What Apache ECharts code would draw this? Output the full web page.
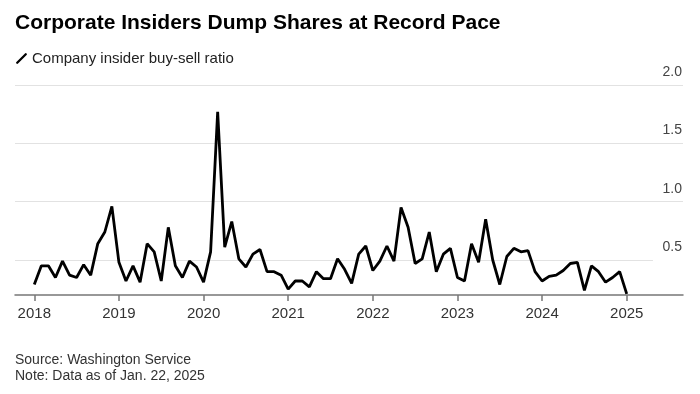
<!DOCTYPE html>
<html>
<head>
<meta charset="utf-8">
<script src="https://cdn.jsdelivr.net/npm/echarts@6/dist/echarts.min.js"></script>
<style>
html,body{margin:0;padding:0;background:#fff;}
#chart{width:700px;height:394px;}
</style>
</head>
<body>
<div id="chart"></div>
<script>
// Monthly insider buy-sell ratio, Jan of each year onward
const years = [2018, 2019, 2020, 2021, 2022, 2023, 2024, 2025];
const v2018 = [0.29,0.45,0.45,0.35,0.49,0.37,0.35,0.46,0.37,0.64,0.74,0.96];
const v2019 = [0.48,0.32,0.45,0.31,0.64,0.57,0.32,0.78,0.45,0.35,0.49,0.44];
const v2020 = [0.31,0.57,1.77,0.61,0.83,0.51,0.44,0.55,0.59,0.40,0.40,0.37];
const v2021 = [0.25,0.32,0.32,0.27,0.40,0.34,0.34,0.51,0.42,0.30,0.55,0.62];
const v2022 = [0.41,0.49,0.62,0.49,0.95,0.78,0.47,0.51,0.74,0.40,0.55,0.60];
const v2023 = [0.35,0.32,0.64,0.48,0.85,0.50,0.29,0.53,0.60,0.57,0.58,0.40];
const v2024 = [0.32,0.36,0.37,0.41,0.47,0.48,0.24,0.45,0.40,0.31,0.35,0.40];
const v2025 = [0.21];
const yTicks = [0.5, 1.0, 1.5, 2.0];
const seriesName = 'Company insider buy-sell ratio';

const byYear = [v2018, v2019, v2020, v2021, v2022, v2023, v2024, v2025];
const data = [];
byYear.forEach((arr, i) => {
  arr.forEach((v, m) => data.push([years[i] + m / 12, v]));
});

const X_MIN = 2017.772, X_MAX = 2025.665;
const Y_MIN = 0.2, Y_MAX = 2.0;

const gridData = yTicks.map(t => [
  { coord: [X_MIN, t] },
  { coord: [t === 0.5 ? 2025.31 : X_MAX, t] }
]);

const FONT = 'Liberation Sans, Arial, sans-serif';
const chart = echarts.init(document.getElementById('chart'), null, { renderer: 'canvas' });
chart.setOption({
  animation: false,
  backgroundColor: '#fff',
  textStyle: { fontFamily: FONT },
  title: [
    {
      text: 'Corporate Insiders Dump Shares at Record Pace',
      left: 10, top: 8,
      textStyle: { fontSize: 21, fontWeight: 'bold', color: '#000', fontFamily: FONT }
    },
    {
      text: 'Source: Washington Service\nNote: Data as of Jan. 22, 2025',
      left: 10, top: 347,
      textStyle: { fontSize: 14, fontWeight: 'normal', color: '#333', lineHeight: 16, fontFamily: FONT }
    }
  ],
  legend: {
    left: 11, top: 46,
    itemWidth: 11, itemHeight: 11, itemGap: 7,
    icon: 'path://M0,9.6 L8.4,1.2 Q9.2,0.4 10,1.2 Q10.8,2 10,2.8 L1.6,11.2 Q0.8,12 0,11.2 Q-0.8,10.4 0,9.6 Z',
    textStyle: { fontSize: 15, color: '#222' },
    data: [{ name: seriesName, itemStyle: { color: '#000' } }]
  },
  grid: { left: 15, right: 17, top: 85, bottom: 99, containLabel: false },
  xAxis: {
    type: 'value',
    min: X_MIN, max: X_MAX,
    splitLine: { show: false },
    axisLine: { show: true, lineStyle: { color: '#777', width: 1.5 } },
    axisTick: { show: true, customValues: years, length: 6, lineStyle: { color: '#777', width: 1.5 } },
    axisLabel: { customValues: years, fontSize: 15, color: '#333', margin: 11, formatter: v => String(Math.round(v)) }
  },
  yAxis: {
    type: 'value',
    position: 'right',
    min: Y_MIN, max: Y_MAX,
    splitLine: { show: false },
    axisLine: { show: false },
    axisTick: { show: false },
    axisLabel: {
      inside: true, customValues: yTicks, fontSize: 14, color: '#444',
      margin: 1, verticalAlign: 'bottom', padding: [0, 0, 6, 0],
      formatter: v => v.toFixed(1)
    }
  },
  series: [{
    name: seriesName,
    type: 'line',
    data: data,
    symbol: 'none',
    lineStyle: { color: '#000', width: 2.8 },
    itemStyle: { color: '#000' },
    z: 5,
    markLine: {
      silent: true, symbol: 'none', animation: false,
      label: { show: false },
      lineStyle: { color: '#e2e2e2', width: 1.2, type: 'solid' },
      emphasis: { disabled: true },
      data: gridData,
      z: 1
    }
  }]
});
</script>
</body>
</html>
